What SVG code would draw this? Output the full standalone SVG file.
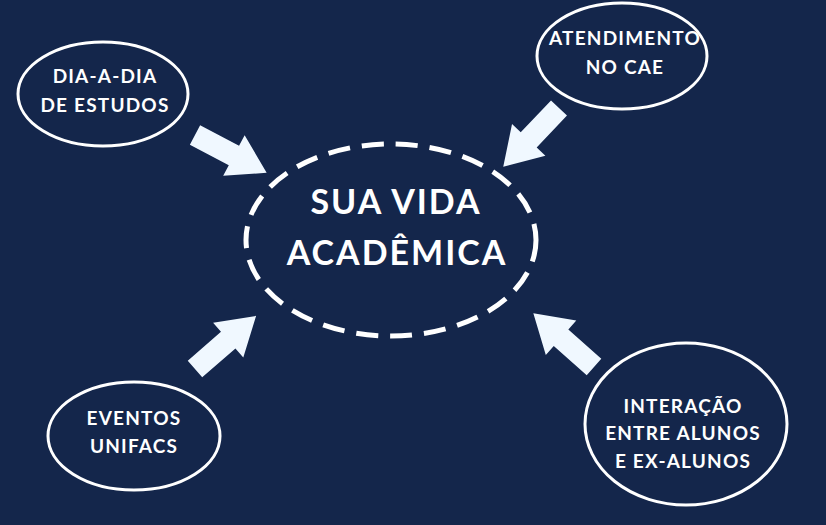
<svg xmlns="http://www.w3.org/2000/svg" width="826" height="525" viewBox="0 0 826 525">
<style>
.node{fill:none;stroke:#ffffff;stroke-width:3}
.center{fill:none;stroke:#ffffff;stroke-width:5;stroke-dasharray:22 12}
.t{fill:#ffffff;font-family:Lato,"Open Sans","DejaVu Sans",sans-serif;font-weight:bold;text-anchor:middle}
.s{font-size:19px;letter-spacing:1.2px}
.b{font-size:34px;letter-spacing:2px}
.arrow{fill:#f0f8ff}
</style>
<defs>
<path id="arr" d="M0,-11 L44,-11 L44,-23 L81,0 L44,23 L44,11 L0,11 Z"/>
</defs>
<rect width="826" height="525" fill="#14264b"/>
<g id="connectors">
<use href="#arr" class="arrow" transform="translate(195,135) rotate(27.8)"/>
<use href="#arr" class="arrow" transform="translate(559,108) rotate(133.5)"/>
<use href="#arr" class="arrow" transform="translate(195,369) rotate(-41)"/>
<use href="#arr" class="arrow" transform="translate(594,367) rotate(-138.5)"/>
</g>
<g id="center">
<ellipse class="center" cx="391" cy="240" rx="145" ry="96"/>
<text class="t b" x="396" y="214">SUA VIDA</text>
<text class="t b" x="397" y="265">ACADÊMICA</text>
</g>
<g id="dia-a-dia">
<ellipse class="node" cx="103" cy="94" rx="85" ry="52"/>
<text class="t s" x="105" y="83">DIA-A-DIA</text>
<text class="t s" x="105" y="112">DE ESTUDOS</text>
</g>
<g id="atendimento">
<ellipse class="node" cx="622" cy="56" rx="85" ry="53"/>
<text class="t s" x="625" y="45">ATENDIMENTO</text>
<text class="t s" x="625" y="74">NO CAE</text>
</g>
<g id="eventos">
<ellipse class="node" cx="134" cy="436" rx="86" ry="54"/>
<text class="t s" x="134" y="425">EVENTOS</text>
<text class="t s" x="134" y="453">UNIFACS</text>
</g>
<g id="interacao">
<ellipse class="node" cx="686" cy="424" rx="101" ry="81"/>
<text class="t s" x="683" y="413">INTERAÇÃO</text>
<text class="t s" x="683" y="440">ENTRE ALUNOS</text>
<text class="t s" x="683" y="468">E EX-ALUNOS</text>
</g>
</svg>
